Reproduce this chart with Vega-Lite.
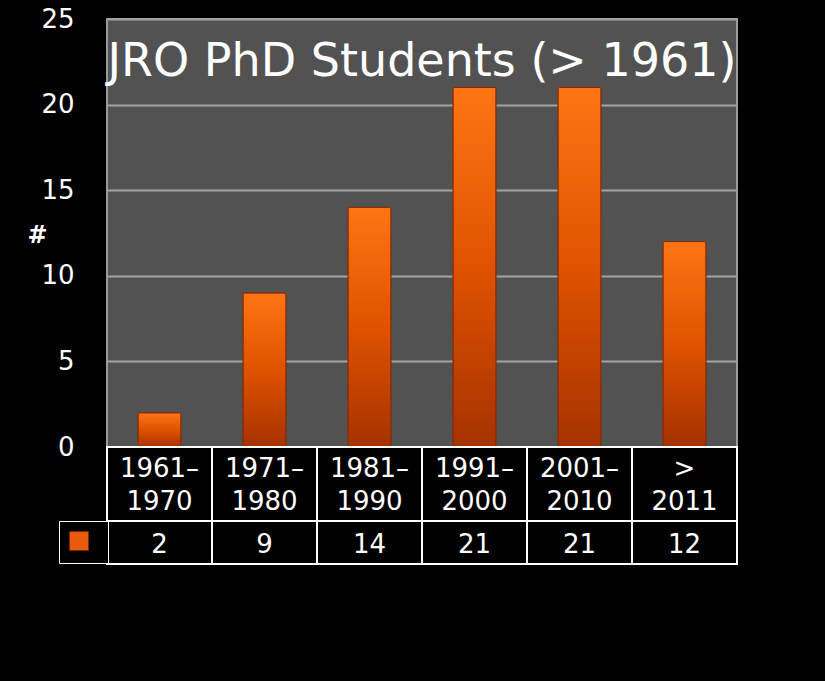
{
  "$schema": "https://vega.github.io/schema/vega-lite/v6.json",
  "autosize": {"type": "none"},
  "padding": {"left": 107, "top": 19, "right": 88, "bottom": 234},
  "width": 630,
  "height": 428,
  "background": "#000000",
  "title": {
    "text": "JRO PhD Students (> 1961)",
    "color": "#ffffff",
    "font": "DejaVu Sans",
    "fontSize": 46,
    "fontWeight": "normal",
    "anchor": "middle",
    "baseline": "alphabetic",
    "offset": 0,
    "dy": 116
  },
  "config": {
    "view": {"fill": "#525252", "stroke": "#9a9a9a", "strokeWidth": 2},
    "font": "DejaVu Sans"
  },
  "data": {
    "values": [
      {"period": "1961–1970", "count": 2, "series": "PhD Students"},
      {"period": "1971–1980", "count": 9, "series": "PhD Students"},
      {"period": "1981–1990", "count": 14, "series": "PhD Students"},
      {"period": "1991–2000", "count": 21, "series": "PhD Students"},
      {"period": "2001–2010", "count": 21, "series": "PhD Students"},
      {"period": "> 2011", "count": 12, "series": "PhD Students"}
    ]
  },
  "encoding": {
    "x": {
      "field": "period",
      "type": "nominal",
      "sort": null,
      "scale": {"paddingInner": 0, "paddingOuter": 0},
      "axis": {
        "title": null,
        "orient": "bottom",
        "zindex": 2,
        "domain": false,
        "ticks": false,
        "labelAngle": 0,
        "labelColor": "#ffffff",
        "labelFont": "DejaVu Sans",
        "labelFontSize": 26,
        "labelLineHeight": 33,
        "labelBaseline": "top",
        "labelPadding": 8,
        "labelExpr": "datum.label == '> 2011' ? ['>', '2011'] : [slice(datum.label, 0, 5), slice(datum.label, 5)]"
      }
    },
    "y": {
      "field": "count",
      "type": "quantitative",
      "scale": {"domain": [0, 25], "nice": false},
      "axis": {
        "values": [0, 5, 10, 15, 20, 25],
        "title": "#",
        "titleAngle": 0,
        "titleColor": "#ffffff",
        "titleFont": "DejaVu Sans",
        "titleFontSize": 24,
        "titleFontWeight": "bold",
        "titleAlign": "center",
        "titleBaseline": "middle",
        "titleX": -70,
        "titleY": 216,
        "domain": false,
        "ticks": false,
        "labelColor": "#ffffff",
        "labelFont": "DejaVu Sans",
        "labelFontSize": 26,
        "labelPadding": 33,
        "grid": true,
        "gridColor": "#a4a4a4",
        "gridWidth": 2
      }
    }
  },
  "layer": [
    {
      "mark": {"type": "bar", "width": {"band": 0.41}, "cornerRadius": 2},
      "encoding": {
        "color": {
          "field": "series",
          "type": "nominal",
          "scale": {"range": ["#e85a0c"]},
          "legend": {
            "orient": "none",
            "legendX": -48,
            "legendY": 502,
            "title": null,
            "symbolType": "square",
            "symbolSize": 361,
            "symbolStrokeColor": "#7a2500",
            "symbolStrokeWidth": 1,
            "symbolOpacity": 1,
            "labelExpr": "''",
            "labelFontSize": 1,
            "labelOffset": 9,
            "padding": 10,
            "strokeColor": "#ffffff",
            "fillColor": "#000000"
          }
        }
      }
    },
    {
      "mark": {
        "type": "bar",
        "width": {"band": 0.41},
        "stroke": "#8a2a00",
        "strokeWidth": 1,
        "cornerRadius": 2,
        "color": {
          "gradient": "linear",
          "x1": 0, "y1": 0, "x2": 0, "y2": 1,
          "stops": [
            {"offset": 0, "color": "#ff7514"},
            {"offset": 0.5, "color": "#e05200"},
            {"offset": 1, "color": "#a63200"}
          ]
        }
      }
    },
    {
      "mark": {"type": "rect", "fill": "#000000", "stroke": "#ffffff", "strokeWidth": 2, "y2Offset": 74},
      "encoding": {
        "y": {"datum": 0, "type": "quantitative"},
        "y2": {"datum": 0}
      }
    },
    {
      "mark": {"type": "rect", "fill": "#000000", "stroke": "#ffffff", "strokeWidth": 2, "yOffset": 74, "y2Offset": 117},
      "encoding": {
        "y": {"datum": 0, "type": "quantitative"},
        "y2": {"datum": 0}
      }
    },
    {
      "mark": {"type": "text", "color": "#ffffff", "font": "DejaVu Sans", "fontSize": 26, "baseline": "middle", "yOffset": 98},
      "encoding": {
        "y": {"datum": 0, "type": "quantitative"},
        "text": {"field": "count", "type": "quantitative"}
      }
    }
  ]
}
